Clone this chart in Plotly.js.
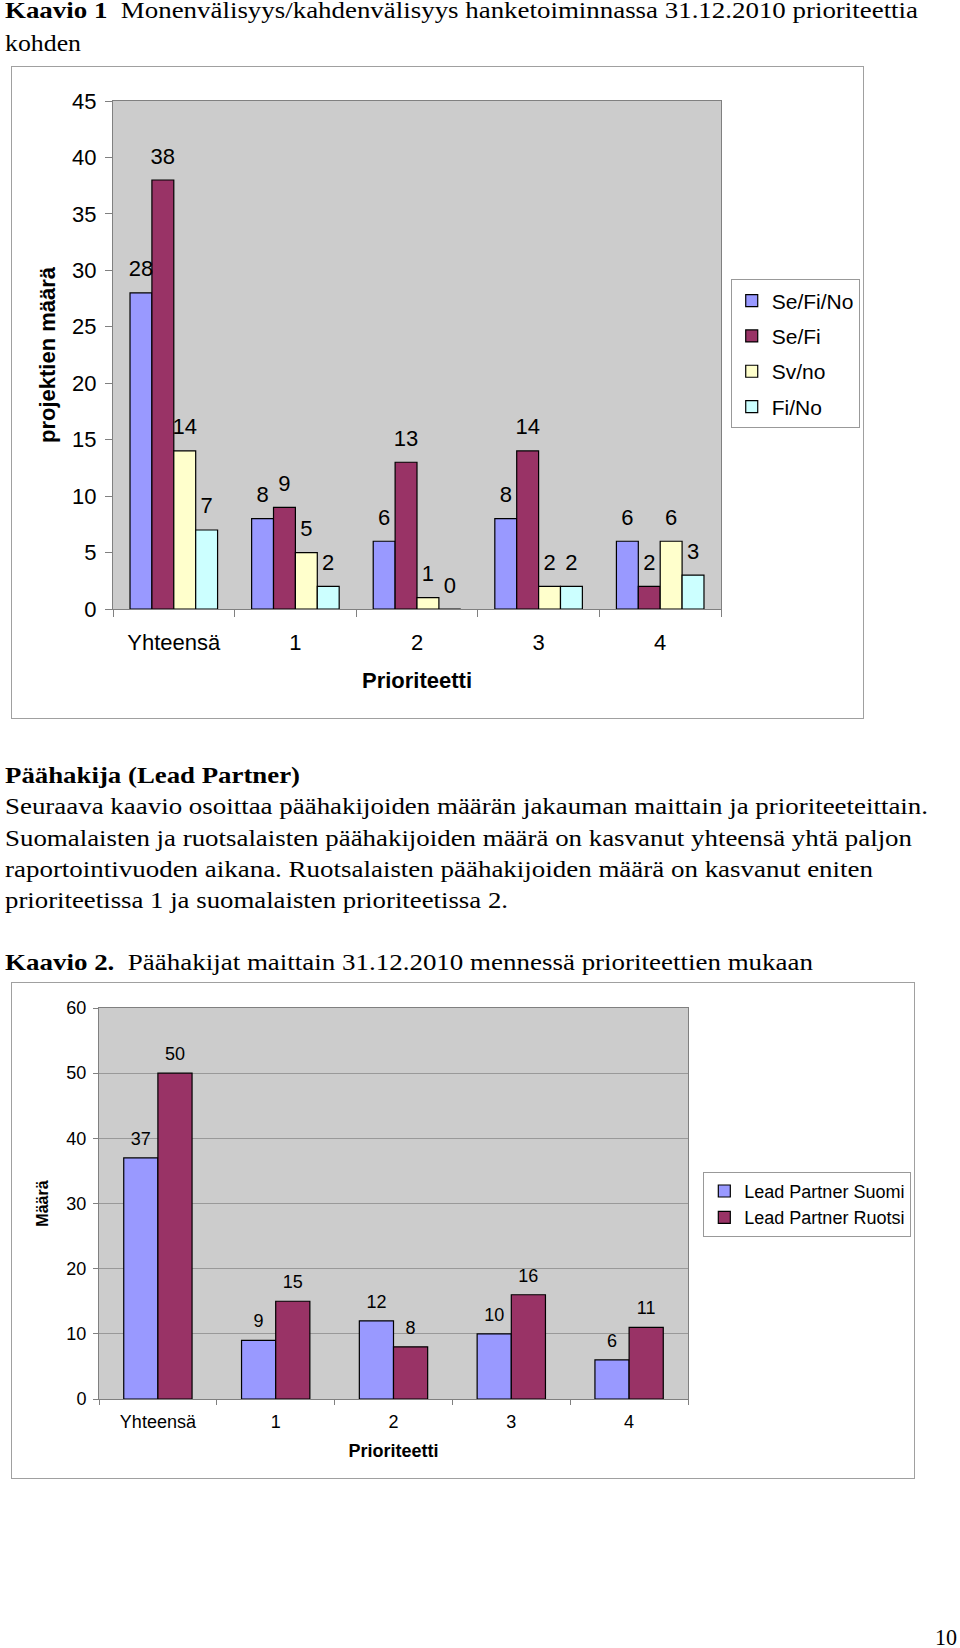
<!DOCTYPE html>
<html>
<head>
<meta charset="utf-8">
<script src="https://cdn.plot.ly/plotly-3.0.1.min.js"></script>
<style>
  html, body { margin:0; padding:0; background:#fff; }
  body { width:960px; height:1648px; position:relative; overflow:hidden;
         font-family:"Liberation Serif","Times New Roman",serif; color:#000; }
  .line { position:absolute; left:5px; white-space:nowrap; font-size:24px; line-height:24px; transform-origin:0 0; }
  .box { position:absolute; border:1.5px solid #a0a0a0; box-sizing:border-box; pointer-events:none; }
  #c1 { position:absolute; left:11px; top:66px; width:880px; height:653px; }
  #c2 { position:absolute; left:11px; top:982px; width:940px; height:497px; }
</style>
</head>
<body>
<div class="line" data-w="913" style="top:-2px"><b>Kaavio 1</b>&nbsp;&nbsp;Monenvälisyys/kahdenvälisyys hanketoiminnassa 31.12.2010 prioriteettia</div>
<div class="line" data-w="76" style="top:31px">kohden</div>

<div id="c1"></div>
<div class="box" style="left:11px;top:66px;width:853px;height:653px"></div>

<div class="line" data-w="295" style="top:763px"><b>Päähakija (Lead Partner)</b></div>
<div class="line" data-w="923" style="top:794px">Seuraava kaavio osoittaa päähakijoiden määrän jakauman maittain ja prioriteeteittain.</div>
<div class="line" data-w="907" style="top:826px">Suomalaisten ja ruotsalaisten päähakijoiden määrä on kasvanut yhteensä yhtä paljon</div>
<div class="line" data-w="868" style="top:857px">raportointivuoden aikana. Ruotsalaisten päähakijoiden määrä on kasvanut eniten</div>
<div class="line" data-w="503" style="top:888px">prioriteetissa 1 ja suomalaisten prioriteetissa 2.</div>
<div class="line" data-w="808" style="top:950px"><b>Kaavio 2.</b>&nbsp;&nbsp;Päähakijat maittain 31.12.2010 mennessä prioriteettien mukaan</div>

<div id="c2"></div>
<div class="box" style="left:11px;top:982px;width:904px;height:497px"></div>

<div class="line" data-w="22" style="left:935px;top:1625px">10</div>

<script>
// ---------- DATA ----------
const categories = ['Yhteensä', '1', '2', '3', '4'];

// Chart 1: Monenvälisyys/kahdenvälisyys
const seriesNames1 = ['Se/Fi/No', 'Se/Fi', 'Sv/no', 'Fi/No'];
const seFiNo = [28, 8, 6, 8, 6];
const seFi   = [38, 9, 13, 14, 2];
const svNo   = [14, 5, 1, 2, 6];
const fiNo   = [7, 2, 0, 2, 3];

// Chart 2: Päähakijat maittain
const seriesNames2 = ['Lead Partner Suomi', 'Lead Partner Ruotsi'];
const suomi  = [37, 9, 12, 10, 6];
const ruotsi = [50, 15, 8, 16, 11];

const axisTitleX = 'Prioriteetti';
const axisTitleY1 = 'projektien määrä';
const axisTitleY2 = 'Määrä';

// ---------- STYLE ----------
const colors1 = ['#9999FF', '#993366', '#FFFFCC', '#CCFFFF'];
const colors2 = ['#9999FF', '#993366'];
const SANS = 'Liberation Sans, Arial, sans-serif';

function makeTraces(seriesList, names, colors, fontSize, labelMarker) {
  const bars = seriesList.map((vals, i) => ({
    type: 'bar', x: categories, y: vals, name: names[i], legendgroup: 'g' + i,
    marker: { color: colors[i], line: { color: '#000', width: 1.2 } },
    hoverinfo: 'skip'
  }));
  const labels = seriesList.map((vals, i) => ({
    type: 'scatter', mode: 'markers+text', x: categories, y: vals,
    text: vals.map(String), textposition: 'top center',
    textfont: { family: SANS, size: fontSize, color: '#000' },
    marker: { size: labelMarker, color: 'rgba(0,0,0,0)' },
    showlegend: false, hoverinfo: 'skip', cliponaxis: false
  }));
  return bars.concat(labels);
}

// ---------- CHART 1 ----------
const traces1 = makeTraces([seFiNo, seFi, svNo, fiNo], seriesNames1, colors1, 22, 16);
const layout1 = {
  width: 880, height: 653,
  margin: { l: 102, r: 170, t: 35, b: 110 },
  paper_bgcolor: 'rgba(0,0,0,0)', plot_bgcolor: '#cccccc',
  barmode: 'group', bargap: 0.28, bargroupgap: 0,
  scattermode: 'group', scattergap: 0.28,
  font: { family: SANS, size: 22, color: '#000' },
  xaxis: {
    type: 'category', tickson: 'boundaries', ticks: 'outside', ticklen: 7,
    tickcolor: '#808080', showline: true, linecolor: '#808080', linewidth: 1, mirror: true,
    showgrid: false, tickfont: { size: 22 }, ticklabelstandoff: 14,
    title: { text: '<b>' + axisTitleX + '</b>', font: { size: 22 }, standoff: 18 }
  },
  yaxis: {
    range: [0, 45], tick0: 0, dtick: 5, ticks: 'outside', ticklen: 7,
    tickcolor: '#808080', showline: true, linecolor: '#808080', linewidth: 1, mirror: true,
    showgrid: false, zeroline: false, tickfont: { size: 22 }, ticklabelstandoff: 4,
    title: { text: '<b>' + axisTitleY1 + '</b>', font: { size: 22 }, standoff: 10 }
  },
  legend: {
    x: 1.016, xanchor: 'left', y: 0.502, yanchor: 'middle',
    bgcolor: '#fff', bordercolor: '#999', borderwidth: 1,
    font: { size: 21 }, tracegroupgap: 5, traceorder: 'grouped', itemclick: false
  },
  showlegend: true
};

// ---------- CHART 2 ----------
const traces2 = makeTraces([suomi, ruotsi], seriesNames2, colors2, 18, 12);
const layout2 = {
  width: 940, height: 497,
  margin: { l: 88, r: 263, t: 26, b: 80 },
  paper_bgcolor: 'rgba(0,0,0,0)', plot_bgcolor: '#cccccc',
  barmode: 'group', bargap: 0.42, bargroupgap: 0,
  scattermode: 'group', scattergap: 0.42,
  font: { family: SANS, size: 18, color: '#000' },
  xaxis: {
    type: 'category', tickson: 'boundaries', ticks: 'outside', ticklen: 5,
    tickcolor: '#808080', showline: true, linecolor: '#808080', linewidth: 1, mirror: true,
    showgrid: false, tickfont: { size: 18 }, ticklabelstandoff: 6,
    title: { text: '<b>' + axisTitleX + '</b>', font: { size: 18 }, standoff: 13 }
  },
  yaxis: {
    range: [0, 60], tick0: 0, dtick: 10, ticks: 'outside', ticklen: 5,
    tickcolor: '#808080', showline: true, linecolor: '#808080', linewidth: 1, mirror: true,
    showgrid: true, gridcolor: '#999999', gridwidth: 1, zeroline: false,
    tickfont: { size: 18 }, ticklabelstandoff: 3,
    title: { text: '<b>' + axisTitleY2 + '</b>', font: { size: 16 }, standoff: 13 }
  },
  legend: {
    x: 1.026, xanchor: 'left', y: 0.498, yanchor: 'middle',
    bgcolor: '#fff', bordercolor: '#999', borderwidth: 1,
    font: { size: 18 }, tracegroupgap: 0, traceorder: 'grouped', itemclick: false
  },
  showlegend: true
};

const cfg = { staticPlot: true, displayModeBar: false };
Plotly.newPlot('c1', traces1, layout1, cfg);
Plotly.newPlot('c2', traces2, layout2, cfg);

// Fit page text lines to the widths of the original document
document.querySelectorAll('.line').forEach(el => {
  const target = parseFloat(el.dataset.w);
  const w = el.getBoundingClientRect().width;
  if (w > 0) el.style.transform = 'scaleX(' + (target / w) + ')';
});
</script>
</body>
</html>
